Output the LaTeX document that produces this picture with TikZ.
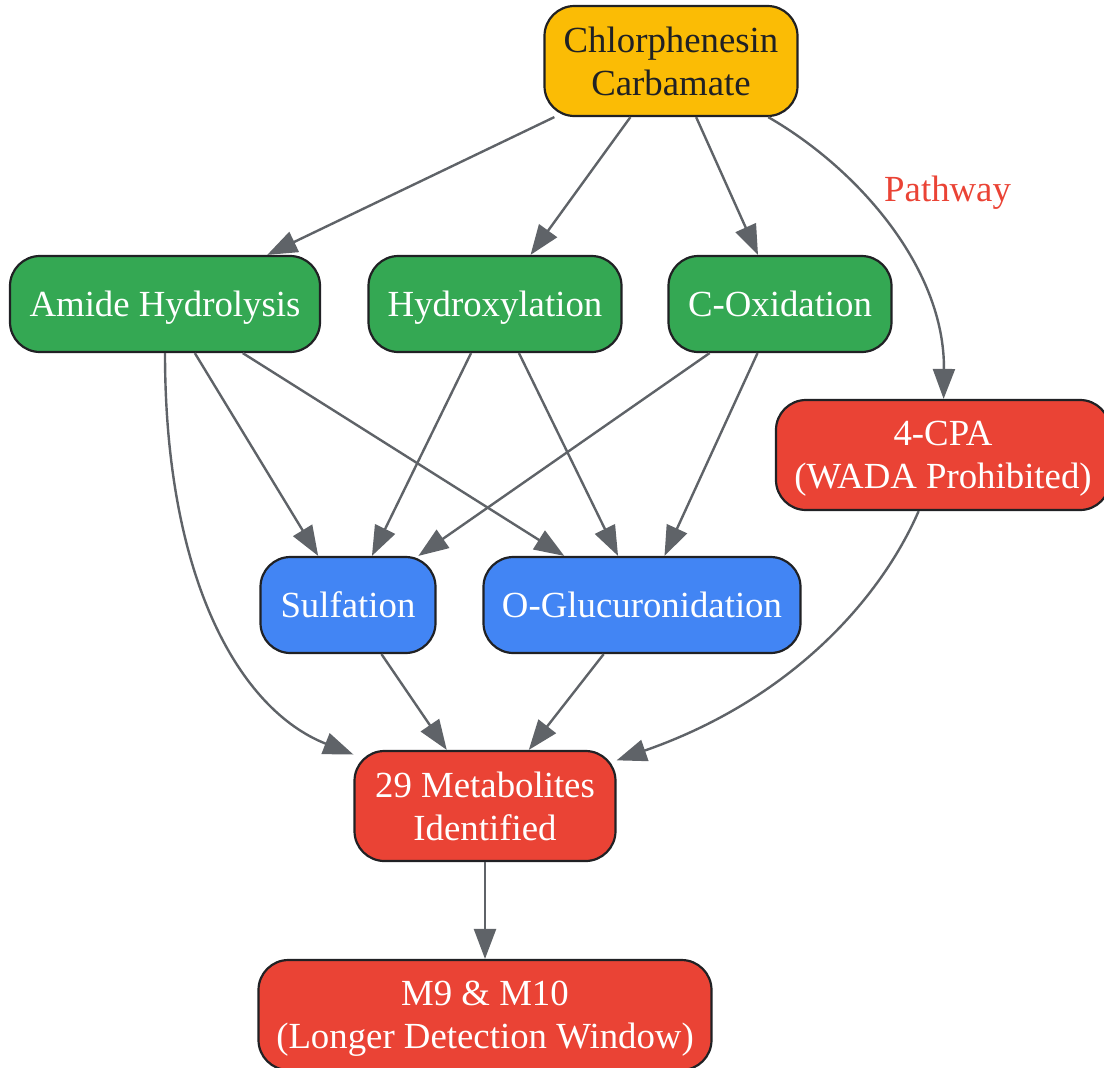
\documentclass[tikz,border=0pt]{standalone}
\usepackage{fontspec}
\setmainfont{Liberation Serif}
\usetikzlibrary{arrows.meta, positioning}
\definecolor{gyellow}{HTML}{FBBC05}
\definecolor{ggreen}{HTML}{34A853}
\definecolor{gblue}{HTML}{4285F4}
\definecolor{gred}{HTML}{EA4335}
\definecolor{linegray}{HTML}{5F6368}
\definecolor{inkdark}{HTML}{202124}
\tikzset{
  stage/.style     = {rectangle, rounded corners=15pt, draw=inkdark,
                      line width=1.1pt, align=center, inner sep=0pt,
                      minimum height=48pt, text=white, text depth=0pt,
                      font=\fontsize{18.4}{21.5}\selectfont},
  oneline/.style   = {text height=12.6pt, text depth=0pt},
  source/.style    = {stage, fill=gyellow, text=inkdark, minimum height=55pt},
  route/.style     = {stage, oneline, fill=ggreen},
  conj/.style      = {stage, oneline, fill=gblue},
  result/.style    = {stage, fill=gred, minimum height=55pt},
  arrow/.style     = {-{Triangle[length=15pt, width=11pt]}, draw=linegray,
                      line width=1.2pt},
  pathlabel/.style = {text=gred, font=\fontsize{18.4}{21.5}\selectfont},
}

\begin{document}
\begin{tikzpicture}[x=0.5pt, y=-0.5pt]

    \useasboundingbox (0,0) rectangle (1104,1067);
    \clip (0,0) rectangle (1104,1067);

    % -- Parent compound ------------------------------------------
    \node[source, minimum width=126.5pt] (carb) at (671,61)
      {Chlorphenesin\\Carbamate};

    % -- Phase I routes -------------------------------------------
    \node[route, minimum width=155pt]   (amide)  at (165,304) {Amide Hydrolysis};
    \node[route, minimum width=126.5pt] (hydrox) at (495,304) {Hydroxylation};
    \node[route, minimum width=111.5pt] (coxid)  at (780,304) {C-Oxidation};

    \node[result, minimum width=167pt] (cpa) at (943,455)
      {4-CPA\\(WADA Prohibited)};

    % -- Phase II conjugation -------------------------------------
    \node[conj, minimum width=87.5pt]  (sulf) at (348,605) {Sulfation};
    \node[conj, minimum width=158.5pt] (gluc) at (642,605) {O-Glucuronidation};

    % -- Outcome --------------------------------------------------
    \node[result, minimum width=130.5pt] (metab) at (485,806)
      {29 Metabolites\\Identified};

    \node[result, minimum width=226.5pt] (window) at (485,1015)
      {M9 \& M10\\(Longer Detection Window)};

    % -- Arrows ---------------------------------------------------
    \draw[arrow] (carb) -- (amide);
    \draw[arrow] (carb) -- (hydrox);
    \draw[arrow] (carb) -- (coxid);
    \draw[arrow] (carb) .. controls (860,170) and (945,270) ..
                 node[pathlabel, pos=0.34, anchor=west, xshift=10pt, yshift=-3pt]{Pathway} (cpa);

    \draw[arrow] (amide)  -- (sulf);
    \draw[arrow] (amide)  -- (gluc);
    \draw[arrow] (amide) .. controls (165,580) and (240,710) .. (metab);
    \draw[arrow] (hydrox) -- (sulf);
    \draw[arrow] (hydrox) -- (gluc);
    \draw[arrow] (coxid)  -- (sulf);
    \draw[arrow] (coxid)  -- (gluc);

    \draw[arrow] (cpa) .. controls (880,600) and (790,700) .. (metab);
    \draw[arrow] (sulf)  -- (metab);
    \draw[arrow] (gluc)  -- (metab);
    \draw[arrow] (metab) -- (window);

  \end{tikzpicture}
\end{document}
